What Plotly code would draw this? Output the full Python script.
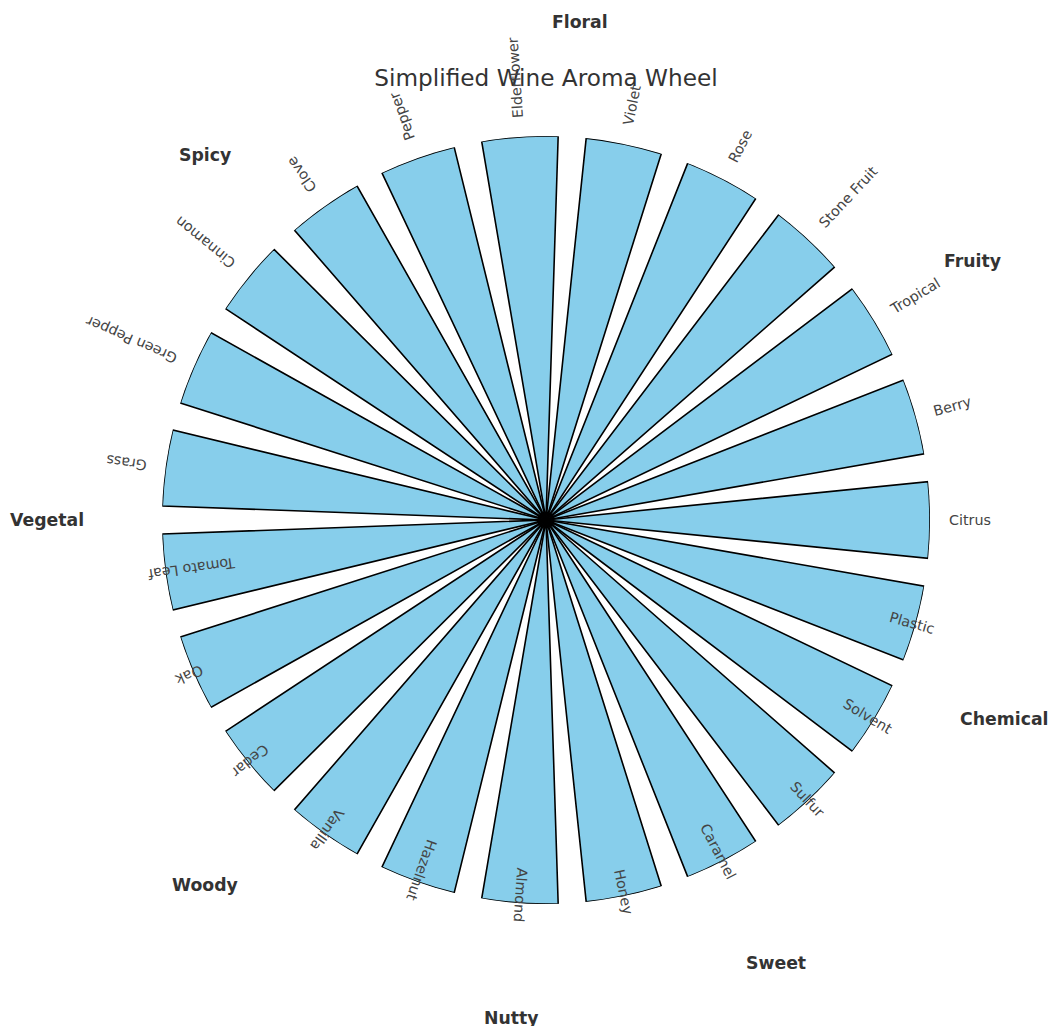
import numpy as np
import plotly.graph_objects as go

# ---------------- data ----------------
aromas = ["Citrus", "Berry", "Tropical", "Stone Fruit",
          "Rose", "Violet", "Elderflower",
          "Pepper", "Clove", "Cinnamon",
          "Green Pepper", "Grass", "Tomato Leaf",
          "Oak", "Cedar", "Vanilla",
          "Hazelnut", "Almond",
          "Honey", "Caramel",
          "Sulfur", "Solvent", "Plastic"]
aroma_category = (["Fruity"] * 4 + ["Floral"] * 3 + ["Spicy"] * 3 + ["Vegetal"] * 3 +
                  ["Woody"] * 3 + ["Nutty"] * 2 + ["Sweet"] * 2 + ["Chemical"] * 3)
categories = ["Fruity", "Floral", "Spicy", "Vegetal", "Woody", "Nutty", "Sweet", "Chemical"]
intensity = [1.0] * len(aromas)

title_text = "Simplified Wine Aroma Wheel"

# ---------------- layout constants ----------------
W, H = 1051, 1026
CX, CY = 546, 520          # centre of wheel in figure px
RPX = 384                  # px per radial unit
BAR_WIDTH_RAD = 0.2
LABEL_R = 1.05
CAT_R = 1.3
ITEM_FS = 14.3
CAT_FS = 17.3
TITLE_FS = 23.2
TITLE_Y = 78

n = len(aromas)
step = 2 * np.pi / n
angles = np.arange(n) * step

# DejaVu Sans advance widths (units / 2048) for length estimation
DJ = {' ': 651, 'A': 1401, 'B': 1405, 'C': 1430, 'D': 1577, 'E': 1294, 'F': 1178, 'G': 1587,
      'H': 1540, 'I': 604, 'L': 1141, 'O': 1612, 'P': 1235, 'R': 1423, 'S': 1300, 'T': 1251,
      'V': 1401, 'a': 1255, 'b': 1300, 'c': 1126, 'd': 1300, 'e': 1260, 'f': 721, 'g': 1300,
      'h': 1298, 'i': 569, 'k': 1186, 'l': 569, 'm': 1995, 'n': 1298, 'o': 1253, 'p': 1300,
      'r': 842, 's': 1067, 't': 803, 'u': 1298, 'v': 1212, 'w': 1675, 'y': 1212, 'z': 1075}


def text_len_px(s, size):
    return sum(DJ.get(ch, 1250) for ch in s) / 2048.0 * size


fig = go.Figure()
fig.add_trace(go.Barpolar(
    r=intensity,
    theta=np.degrees(angles),
    width=[np.degrees(BAR_WIDTH_RAD)] * n,
    marker=dict(color="#87CEEB", line=dict(color="black", width=1.6)),
    hoverinfo="skip",
    showlegend=False,
))
# invisible cartesian overlay used for rotated text placement
fig.add_trace(go.Scatter(x=[], y=[], xaxis="x", yaxis="y", showlegend=False, hoverinfo="skip"))

annotations = []
for ang, lab in zip(angles, aromas):
    half = text_len_px(lab, ITEM_FS) / 2.0 / RPX
    deg = np.degrees(ang)
    rc = LABEL_R + half if deg < 180 else LABEL_R - half
    annotations.append(dict(
        x=rc * np.cos(ang), y=rc * np.sin(ang), xref="x", yref="y",
        text=lab, showarrow=False, textangle=-deg,
        xanchor="center", yanchor="middle",
        font=dict(family="DejaVu Sans", size=ITEM_FS, color="#444444"),
    ))

for cat in categories:
    idx = [i for i, c in enumerate(aroma_category) if c == cat]
    mid = (idx[0] + idx[-1] + 1) / 2.0 * step
    annotations.append(dict(
        x=CAT_R * np.cos(mid), y=CAT_R * np.sin(mid), xref="x", yref="y",
        text="<b>%s</b>" % cat, showarrow=False,
        xanchor="center", yanchor="middle",
        font=dict(family="DejaVu Sans", size=CAT_FS, color="#333333"),
    ))

fig.update_layout(
    width=W, height=H,
    margin=dict(l=0, r=0, t=0, b=0),
    paper_bgcolor="white",
    plot_bgcolor="rgba(0,0,0,0)",
    showlegend=False,
    title=dict(text=title_text, x=CX / W, y=1 - TITLE_Y / H, xanchor="center", yanchor="middle",
               font=dict(family="DejaVu Sans", size=TITLE_FS, color="#333333")),
    polar=dict(
        domain=dict(x=[(CX - RPX) / W, (CX + RPX) / W],
                    y=[(H - CY - RPX) / H, (H - CY + RPX) / H]),
        bgcolor="rgba(0,0,0,0)",
        radialaxis=dict(range=[0, 1], visible=False, showgrid=False),
        angularaxis=dict(visible=False, showgrid=False, rotation=0, direction="counterclockwise"),
    ),
    xaxis=dict(domain=[0, 1], range=[-CX / RPX, (W - CX) / RPX], visible=False,
               showgrid=False, zeroline=False, fixedrange=True),
    yaxis=dict(domain=[0, 1], range=[-(H - CY) / RPX, CY / RPX], visible=False,
               showgrid=False, zeroline=False, fixedrange=True),
    annotations=annotations,
)

fig.write_html("out.html",
               config={"displayModeBar": False},
               post_script="document.body.style.margin='0px';"
                           "document.body.style.overflow='hidden';")
